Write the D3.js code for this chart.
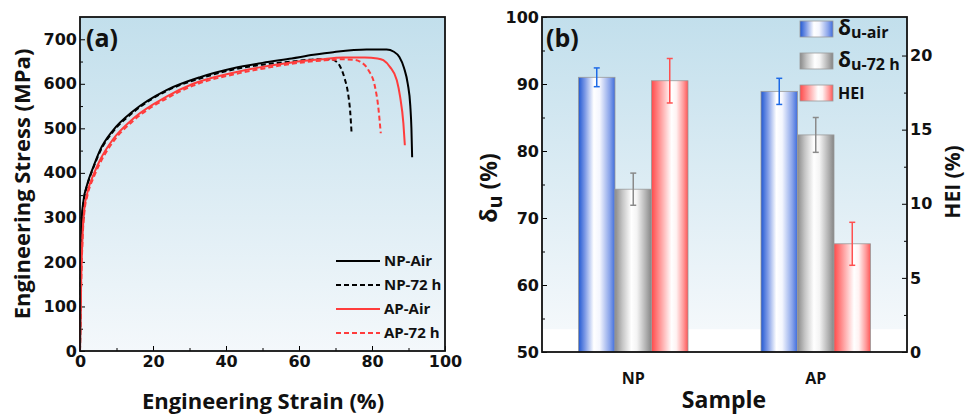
<!DOCTYPE html>
<html>
<head>
<meta charset="utf-8">
<script src="https://cdn.jsdelivr.net/npm/d3@7"></script>
<style>
  body { margin: 0; background: #fff; }
  svg text { font-family: "Open Sans", sans-serif; font-weight: 700; fill: #111; }
  .tick text { font-family: "DejaVu Sans", sans-serif; font-weight: 700; font-size: 16px; fill: #111; }
</style>
</head>
<body>
<div id="chart"></div>
<script>
// ---- panel (a) data: engineering strain (%) vs engineering stress (MPa) ----
var npAir = [[0,0],[0.2,170],[0.5,300],[1,340],[2,375],[3.5,410],[5.5,451],[9,495],[14.6,539],[23.7,586],
  [32.9,615],[42,635],[50,647],[58,657],[64,665],[69.4,671],[78.5,677],[84,677],[86,672],[87.5,660],[88.8,635],
  [89.8,600],[90.5,550],[90.8,500],[91,435]];
var np72 = [[0,0],[0.2,160],[0.5,290],[1,335],[2,372],[3.5,408],[5.5,448],[9,492],[14.6,536],[23.7,584],
  [32.9,612],[42,632],[50,643],[58,650],[65,655],[68.5,655],[70.5,648],[71.5,635],[72.5,612],[73.5,575],
  [74,540],[74.4,490]];
var apAir = [[0,0],[0.3,150],[0.7,260],[1.2,320],[2,355],[3.9,400],[5.5,429],[9,475],[14.6,522],[23.7,571],
  [31,600],[42,625],[50,638],[58,648],[66,655],[72,659],[78,659],[81.5,657],[83.1,653],[84.9,638],
  [86.8,608],[87.7,571],[88.6,511],[89,462]];
var ap72 = [[0,0],[0.3,140],[0.7,250],[1.2,312],[2,348],[3.9,393],[5.5,422],[9,469],[14.6,517],[23.7,567],
  [31,596],[42,621],[50,634],[58,645],[66,652],[72,655],[75,654],[76.7,650],[79,631],[80.8,594],
  [81.7,549],[82.4,489]];
var curveNames = ["NP-Air", "NP-72 h", "AP-Air", "AP-72 h"];
var strainTicks = [0, 20, 40, 60, 80, 100];
var stressTicks = [0, 100, 200, 300, 400, 500, 600, 700];

// ---- panel (b) data ----
var samples = ["NP", "AP"];
var deltaAir = [91.0, 88.9];
var deltaAirErr = [1.4, 1.95];
var delta72 = [74.3, 82.4];
var delta72Err = [2.4, 2.6];
var hei = [18.3, 7.3];
var heiErr = [1.5, 1.45];
var deltaTicks = [50, 60, 70, 80, 90, 100];
var heiTicks = [0, 5, 10, 15, 20];

var svg = d3.select("#chart").append("svg")
    .attr("width", 966)
    .attr("height", 416);

var defs = svg.append("defs");

var bg = defs.append("linearGradient").attr("id", "bg")
    .attr("x1", 0).attr("y1", 0).attr("x2", 0).attr("y2", 1);
bg.append("stop").attr("offset", "0%").attr("stop-color", "#c2dfec");
bg.append("stop").attr("offset", "100%").attr("stop-color", "#f4f8fb");

function barGrad(id, stops) {
  var g = defs.append("linearGradient").attr("id", id)
      .attr("x1", 0).attr("y1", 0).attr("x2", 1).attr("y2", 0);
  stops.forEach(function(s) {
    g.append("stop").attr("offset", s[0]).attr("stop-color", s[1]);
  });
}
barGrad("gBlue", [["0%", "#2158d2"], ["18%", "#7d9ae6"], ["42%", "#ffffff"], ["58%", "#f4f6fe"], ["85%", "#8ba5ea"], ["100%", "#3f6ddc"]]);
barGrad("gGray", [["0%", "#8a8a8a"], ["20%", "#c4c4c4"], ["45%", "#ffffff"], ["60%", "#f4f4f4"], ["85%", "#b0b0b0"], ["100%", "#858585"]]);
barGrad("gRed", [["0%", "#ff4a4a"], ["25%", "#ff9c9c"], ["55%", "#ffffff"], ["68%", "#fff2f2"], ["88%", "#ff9898"], ["100%", "#ff5656"]]);

// =================== panel (a) ===================
var a = {left: 80, right: 445, top: 17, bottom: 351};

var x = d3.scaleLinear().domain([0, 100]).range([a.left, a.right]);
var y = d3.scaleLinear().domain([0, 750]).range([a.bottom, a.top]);

svg.append("rect")
    .attr("x", a.left).attr("y", a.top)
    .attr("width", a.right - a.left).attr("height", a.bottom - a.top)
    .attr("fill", "url(#bg)");

// minor ticks
svg.append("g")
    .attr("transform", "translate(0," + a.bottom + ")")
    .call(d3.axisBottom(x).tickValues([10, 30, 50, 70, 90]).tickSize(-3).tickFormat(""))
    .call(function(g) { g.select(".domain").remove(); });
svg.append("g")
    .attr("transform", "translate(" + a.left + ",0)")
    .call(d3.axisLeft(y).tickValues([50, 150, 250, 350, 450, 550, 650]).tickSize(-3).tickFormat(""))
    .call(function(g) { g.select(".domain").remove(); });

svg.append("g")
    .attr("transform", "translate(0," + a.bottom + ")")
    .call(d3.axisBottom(x).tickValues(strainTicks).tickSize(-5).tickPadding(5))
    .call(function(g) { g.select(".domain").remove(); });
svg.append("g")
    .attr("transform", "translate(" + a.left + ",0)")
    .call(d3.axisLeft(y).tickValues(stressTicks).tickSize(-5).tickPadding(3))
    .call(function(g) { g.select(".domain").remove(); });

var line = d3.line()
    .x(function(d) { return x(d[0]); })
    .y(function(d) { return y(d[1]); })
    .curve(d3.curveMonotoneX);

var curves = [
  {data: npAir, color: "#000", dash: null},
  {data: np72, color: "#000", dash: "5,3"},
  {data: apAir, color: "#ff3c3c", dash: null},
  {data: ap72, color: "#ff3c3c", dash: "5,3"}
];

svg.append("g").selectAll("path")
    .data(curves)
    .enter().append("path")
      .attr("d", function(d) { return line(d.data); })
      .attr("fill", "none")
      .attr("stroke", function(d) { return d.color; })
      .attr("stroke-width", 2)
      .attr("stroke-dasharray", function(d) { return d.dash; });

svg.append("rect")
    .attr("x", a.left).attr("y", a.top)
    .attr("width", a.right - a.left).attr("height", a.bottom - a.top)
    .attr("fill", "none").attr("stroke", "#111").attr("stroke-width", 1.8);

// legend (a)
var legA = svg.append("g").selectAll("g")
    .data(curves)
    .enter().append("g")
      .attr("transform", function(d, i) { return "translate(336," + (261 + i * 24) + ")"; });
legA.append("line")
    .attr("x1", 0).attr("x2", 44)
    .attr("stroke", function(d) { return d.color; })
    .attr("stroke-width", 2)
    .attr("stroke-dasharray", function(d) { return d.dash; });
legA.append("text")
    .attr("x", 48).attr("dy", "0.35em")
    .style("font-size", "15px")
    .text(function(d, i) { return curveNames[i]; });

svg.append("text")
    .attr("x", 86).attr("y", 47)
    .style("font-size", "25px")
    .text("(a)");

svg.append("text")
    .attr("x", 263).attr("y", 409)
    .attr("text-anchor", "middle")
    .style("font-size", "22px")
    .text("Engineering Strain (%)");

svg.append("text")
    .attr("transform", "translate(30," + ((a.top + a.bottom) / 2 + 0) + ") rotate(-90)")
    .attr("text-anchor", "middle")
    .style("font-size", "22px")
    .text("Engineering Stress (MPa)");

// =================== panel (b) ===================
var b = {left: 542, right: 907, top: 17, bottom: 352};

var xb = d3.scaleBand().domain(samples).range([b.left, b.right])
    .paddingInner(0.4).paddingOuter(0.2);
var series = ["air", "72", "hei"];
var xs = d3.scaleBand().domain(series).range([0, xb.bandwidth()]);
var yl = d3.scaleLinear().domain([50, 100]).range([b.bottom, b.top]);
var yr = d3.scaleLinear().domain([0, 22.6]).range([b.bottom, b.top]);

svg.append("rect")
    .attr("x", b.left).attr("y", b.top)
    .attr("width", b.right - b.left).attr("height", yl(53.4) - b.top)
    .attr("fill", "url(#bg)");

svg.append("g")
    .attr("transform", "translate(" + b.left + ",0)")
    .call(d3.axisLeft(yl).tickValues([55, 65, 75, 85, 95]).tickSize(-3).tickFormat(""))
    .call(function(g) { g.select(".domain").remove(); });
svg.append("g")
    .attr("transform", "translate(" + b.right + ",0)")
    .call(d3.axisRight(yr).tickValues([2.5, 7.5, 12.5, 17.5]).tickSize(-3).tickFormat(""))
    .call(function(g) { g.select(".domain").remove(); });
svg.append("g")
    .attr("transform", "translate(" + b.left + ",0)")
    .call(d3.axisLeft(yl).tickValues(deltaTicks).tickSize(-5).tickPadding(3))
    .call(function(g) { g.select(".domain").remove(); });
svg.append("g")
    .attr("transform", "translate(" + b.right + ",0)")
    .call(d3.axisRight(yr).tickValues(heiTicks).tickSize(-5).tickPadding(3))
    .call(function(g) { g.select(".domain").remove(); });
svg.append("g")
    .attr("transform", "translate(0," + b.bottom + ")")
    .call(d3.axisBottom(xb).tickSize(0).tickPadding(21))
    .call(function(g) { g.select(".domain").remove(); })
    .call(function(g) { g.selectAll("text").style("font-family", "'Open Sans', sans-serif").style("font-size", "16px"); });

var bars = [];
samples.forEach(function(s, i) {
  bars.push({sample: s, key: "air", v: deltaAir[i], e: deltaAirErr[i], y: yl, fill: "url(#gBlue)", ec: "#1e6ae6"});
  bars.push({sample: s, key: "72", v: delta72[i], e: delta72Err[i], y: yl, fill: "url(#gGray)", ec: "#8a8a8a"});
  bars.push({sample: s, key: "hei", v: hei[i], e: heiErr[i], y: yr, fill: "url(#gRed)", ec: "#ff5050"});
});

var barG = svg.append("g").selectAll("g")
    .data(bars)
    .enter().append("g")
      .attr("transform", function(d) { return "translate(" + (xb(d.sample) + xs(d.key)) + ",0)"; });
barG.append("rect")
    .attr("y", function(d) { return d.y(d.v); })
    .attr("width", xs.bandwidth())
    .attr("height", function(d) { return b.bottom - d.y(d.v); })
    .attr("fill", function(d) { return d.fill; })
    .attr("stroke", "#9a9a9a")
    .attr("stroke-width", 0.8);
var w2 = xs.bandwidth() / 2;
barG.append("line")
    .attr("x1", w2).attr("x2", w2)
    .attr("y1", function(d) { return d.y(d.v + d.e); })
    .attr("y2", function(d) { return d.y(d.v - d.e); })
    .attr("stroke", function(d) { return d.ec; })
    .attr("stroke-width", 1.5);
barG.selectAll(".cap")
    .data(function(d) { return [d.v + d.e, d.v - d.e].map(function(v) { return {v: v, p: d}; }); })
    .enter().append("line")
      .attr("x1", w2 - 3).attr("x2", w2 + 3)
      .attr("y1", function(c) { return c.p.y(c.v); })
      .attr("y2", function(c) { return c.p.y(c.v); })
      .attr("stroke", function(c) { return c.p.ec; })
      .attr("stroke-width", 1.5);

svg.append("rect")
    .attr("x", b.left).attr("y", b.top)
    .attr("width", b.right - b.left).attr("height", b.bottom - b.top)
    .attr("fill", "none").attr("stroke", "#111").attr("stroke-width", 1.8);

// legend (b)
var legB = [
  {fill: "url(#gBlue)", main: "δ", sub: "u-air"},
  {fill: "url(#gGray)", main: "δ", sub: "u-72 h"},
  {fill: "url(#gRed)", main: "HEI", sub: ""}
];
var lb = svg.append("g").selectAll("g")
    .data(legB)
    .enter().append("g")
      .attr("transform", function(d, i) { return "translate(800," + (21 + i * 32) + ")"; });
lb.append("rect")
    .attr("width", 33).attr("height", 16)
    .attr("fill", function(d) { return d.fill; })
    .attr("stroke", "#9a9a9a").attr("stroke-width", 0.8);
var lt = lb.append("text")
    .attr("x", 38).attr("y", 14)
    .style("font-size", function(d) { return d.sub ? "21px" : "16px"; });
lt.append("tspan").text(function(d) { return d.main; });
lt.append("tspan")
    .attr("dy", 3)
    .style("font-size", "16px")
    .text(function(d) { return d.sub; });

svg.append("text")
    .attr("x", 546).attr("y", 47)
    .style("font-size", "25px")
    .text("(b)");

svg.append("text")
    .attr("x", 724).attr("y", 408)
    .attr("text-anchor", "middle")
    .style("font-size", "23px")
    .text("Sample");

var ylab = svg.append("text")
    .attr("transform", "translate(497,188) rotate(-90)")
    .attr("text-anchor", "middle")
    .style("font-size", "23px");
ylab.append("tspan").text("δ");
ylab.append("tspan").attr("dy", 5).style("font-size", "20px").text("u");
ylab.append("tspan").attr("dy", -5).text(" (%)");

svg.append("text")
    .attr("transform", "translate(960,182) rotate(-90)")
    .attr("text-anchor", "middle")
    .style("font-size", "21px")
    .text("HEI (%)");
</script>
</body>
</html>
